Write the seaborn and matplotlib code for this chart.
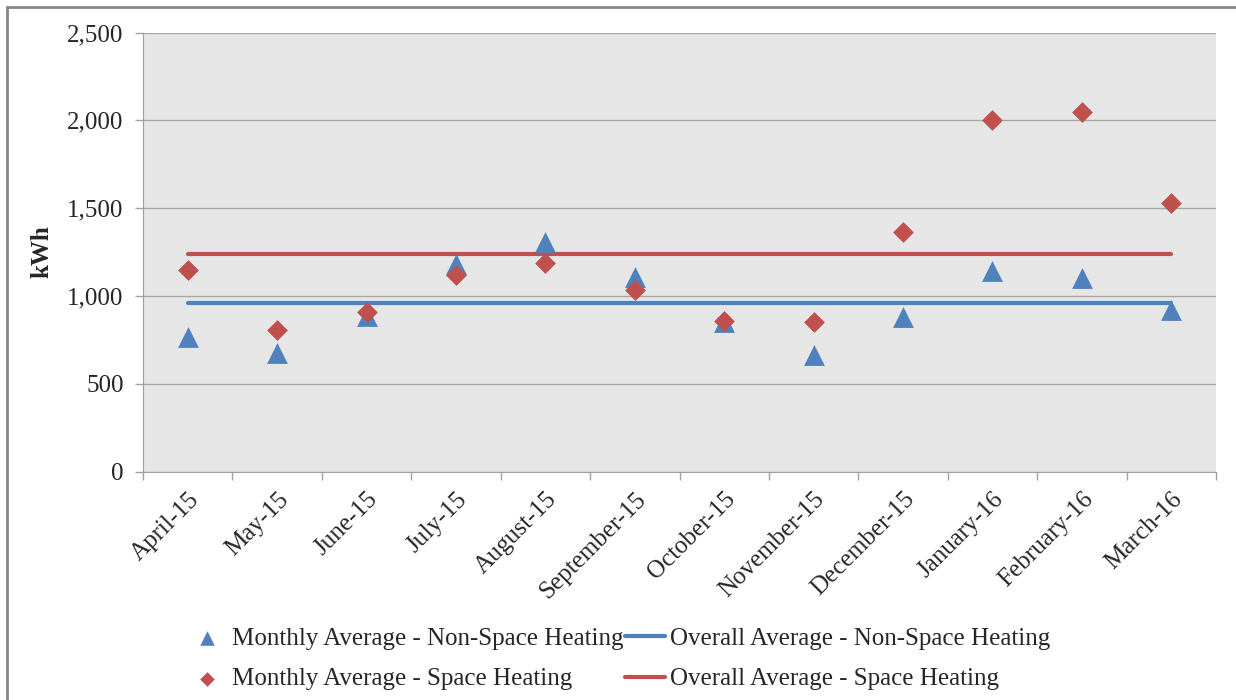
import numpy as np
import pandas as pd
import seaborn as sns
import matplotlib.pyplot as plt
from matplotlib.ticker import StrMethodFormatter, FixedLocator
from matplotlib.patches import Rectangle

months = ['April-15', 'May-15', 'June-15', 'July-15', 'August-15', 'September-15',
          'October-15', 'November-15', 'December-15', 'January-16', 'February-16', 'March-16']
non_space_heating = [767, 677, 885, 1181, 1308, 1105, 851, 661, 882, 1142, 1104, 920]
space_heating = [1147, 808, 908, 1118, 1188, 1034, 858, 853, 1364, 1999, 2048, 1527]
overall_non_space = 959
overall_space = 1236

BLUE = '#4F81BD'
RED = '#C0504D'
FS = 18

df = pd.DataFrame({
    'pos': np.arange(len(months)),
    'month': months,
    'non_space': non_space_heating,
    'space': space_heating,
    'avg_non_space': [overall_non_space] * len(months),
    'avg_space': [overall_space] * len(months),
})

sns.set_style('whitegrid', {'axes.facecolor': '#E6E6E6', 'grid.color': '#A6A6A6',
                            'axes.edgecolor': '#A0A0A0'})
plt.rcParams['font.family'] = ['Liberation Serif', 'DejaVu Serif']

fig = plt.figure(figsize=(12.36, 7.0), dpi=100)
ax = fig.add_axes([143 / 1236, 1 - 471.5 / 700, (1216 - 143) / 1236, (471.5 - 32.5) / 700])

sns.scatterplot(data=df, x='pos', y='non_space', ax=ax, marker='^', s=225, color=BLUE,
                linewidth=0, label='Monthly Average - Non-Space Heating', zorder=3)
sns.scatterplot(data=df, x='pos', y='space', ax=ax, marker='D', s=112, color=RED,
                linewidth=0, label='Monthly Average - Space Heating', zorder=4)
sns.lineplot(data=df, x='pos', y='avg_non_space', ax=ax, color=BLUE, linewidth=3,
             solid_capstyle='round', label='Overall Average - Non-Space Heating', zorder=2)
sns.lineplot(data=df, x='pos', y='avg_space', ax=ax, color=RED, linewidth=3,
             solid_capstyle='round', label='Overall Average - Space Heating', zorder=2)

ax.set_xlim(-0.5, len(months) - 0.5)
ax.set_ylim(0, 2500)
ax.set_yticks(np.arange(0, 2501, 500))
ax.yaxis.set_major_formatter(StrMethodFormatter('{x:,.0f}'))
ax.grid(axis='x', visible=False)
ax.grid(axis='y', color='#A6A6A6', linewidth=1)
ax.set_axisbelow(True)

ax.set_xticks(df['pos'])
ax.set_xticklabels(months, rotation=45, ha='right', rotation_mode='anchor')
ax.xaxis.set_minor_locator(FixedLocator(np.arange(-0.5, len(months), 1.0)))
ax.tick_params(axis='x', which='major', length=0, pad=12, labelsize=FS)
ax.tick_params(axis='x', which='minor', length=6, color='#A0A0A0', width=1, bottom=True)
ax.tick_params(axis='y', length=6, color='#A0A0A0', width=1, left=True, labelsize=FS, pad=8)

for side in ['top', 'right']:
    ax.spines[side].set_visible(False)
ax.spines['left'].set_color('#A0A0A0')
ax.spines['bottom'].set_color('#A0A0A0')

ax.set_xlabel('')
ax.set_ylabel('kWh', fontsize=FS, fontweight='bold', labelpad=10)

handles, labels = ax.get_legend_handles_labels()
ax.get_legend().remove()
fig.legend(handles, labels,
           ncol=2, loc='center left', bbox_to_anchor=(187 / 1236, 1 - 659 / 700),
           frameon=False, fontsize=FS, handlelength=1.6, handletextpad=0.2,
           columnspacing=0.05, labelspacing=0.72, borderaxespad=0, borderpad=0,
           markerscale=0.7)

fig.patches.append(Rectangle((7 / 1236, -0.05), 1.1, 1 - 7 / 700 + 0.05,
                             transform=fig.transFigure, fill=False,
                             edgecolor='#888888', linewidth=2))

fig.savefig('out.png', dpi=100)
